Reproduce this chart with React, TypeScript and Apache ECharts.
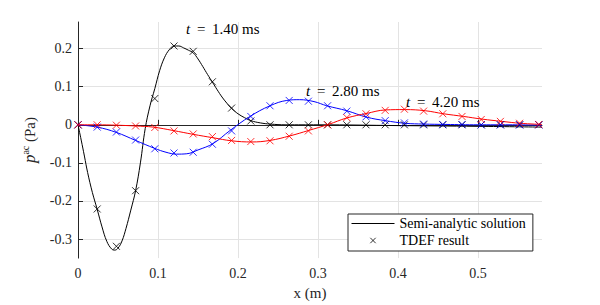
import React, { useEffect, useRef } from "react";
import * as echarts from "echarts";

// Marker (TDEF result) positions, m
const xMarkers = [0, 0.024, 0.048, 0.072, 0.096, 0.12, 0.144, 0.168, 0.192, 0.216, 0.24, 0.264, 0.288, 0.312, 0.336, 0.36, 0.384, 0.408, 0.432, 0.456, 0.48, 0.504, 0.528, 0.552, 0.576];
const tdef140 = [0, -0.221, -0.319, -0.173, 0.069, 0.207, 0.193, 0.113, 0.044, 0.010, 0.000, 0.000, 0.000, 0.000, 0.000, 0.000, 0.000, 0.000, 0.000, 0.000, 0.000, 0.000, 0.000, 0.000, 0.000];
const tdef280 = [0, -0.006, -0.019, -0.040, -0.063, -0.074, -0.072, -0.051, -0.016, 0.022, 0.050, 0.064, 0.062, 0.050, 0.036, 0.021, 0.011, 0.005, 0.002, 0.001, 0.001, 0.000, 0.000, 0.000, 0.000];
const tdef420 = [0, 0.000, -0.001, -0.003, -0.007, -0.016, -0.024, -0.031, -0.041, -0.044, -0.042, -0.030, -0.016, 0.000, 0.019, 0.029, 0.038, 0.041, 0.036, 0.029, 0.022, 0.014, 0.009, 0.004, 0.001];

// Semi-analytic solution curves
const lineX140 = [0, 0.004, 0.008, 0.012, 0.018, 0.024, 0.030, 0.036, 0.042, 0.046, 0.050, 0.055, 0.060, 0.066, 0.072, 0.078, 0.084, 0.090, 0.096, 0.102, 0.108, 0.114, 0.120, 0.126, 0.132, 0.138, 0.144, 0.150, 0.156, 0.162, 0.168, 0.174, 0.180, 0.186, 0.192, 0.200, 0.208, 0.216, 0.228, 0.240, 0.260, 0.300, 0.400, 0.500, 0.580];
const lineY140 = [0, -0.040, -0.082, -0.125, -0.178, -0.222, -0.268, -0.306, -0.326, -0.329, -0.324, -0.305, -0.272, -0.224, -0.173, -0.100, -0.010, 0.050, 0.095, 0.142, 0.176, 0.197, 0.207, 0.207, 0.202, 0.196, 0.189, 0.173, 0.153, 0.132, 0.112, 0.092, 0.073, 0.057, 0.043, 0.029, 0.019, 0.011, 0.005, 0.002, 0.000, 0.000, -0.002, -0.004, -0.006];
const lineX280 = [0, 0.024, 0.048, 0.072, 0.096, 0.110, 0.123, 0.136, 0.150, 0.169, 0.190, 0.215, 0.240, 0.261, 0.277, 0.295, 0.311, 0.336, 0.361, 0.384, 0.409, 0.432, 0.460, 0.500, 0.540, 0.580];
const lineY280 = [0, -0.006, -0.020, -0.041, -0.062, -0.072, -0.077, -0.076, -0.066, -0.049, -0.015, 0.022, 0.050, 0.064, 0.066, 0.061, 0.050, 0.037, 0.020, 0.011, 0.004, 0.002, 0.001, 0.000, 0.000, -0.001];
const lineX420 = [0, 0.024, 0.048, 0.072, 0.094, 0.119, 0.144, 0.169, 0.192, 0.217, 0.240, 0.265, 0.288, 0.313, 0.336, 0.361, 0.384, 0.409, 0.434, 0.457, 0.482, 0.505, 0.530, 0.553, 0.580];
const lineY420 = [0, 0.000, -0.001, -0.003, -0.006, -0.015, -0.025, -0.034, -0.042, -0.045, -0.041, -0.029, -0.015, 0.001, 0.018, 0.030, 0.039, 0.040, 0.037, 0.029, 0.022, 0.015, 0.009, 0.004, 0.001];

const xTicks = [0, 0.1, 0.2, 0.3, 0.4, 0.5];
const yTicks = [-0.3, -0.2, -0.1, 0, 0.1, 0.2];

const annotations = [
  { label: "1.40 ms", x: 0.135, y: 0.252 },
  { label: "2.80 ms", x: 0.285, y: 0.088 },
  { label: "4.20 ms", x: 0.41, y: 0.06 },
];

const FONT = "Liberation Serif";
const AXIS = "#262626";
const GRID = "#e3e3e3";
const XPATH = "path://M0,0L10,10M10,0L0,10";
const XPATH_LEGEND = "path://M-8,-8M18,18M0,0L10,10M10,0L0,10";
const LINE_LEGEND = "path://M0,-7M0,7M0,0L43,0";

const pair = (xs: number[], ys: number[]) => xs.map((x, i) => [x, ys[i]]);
const fmt = (v: number) => String(Math.round(v * 10) / 10);

export default function App() {
  const ref = useRef<HTMLDivElement>(null);
  useEffect(() => {
    document.body.style.margin = "0";
    if (!ref.current) return;
    const chart = echarts.init(ref.current, null, { renderer: "svg" });
    const lineSeries = (data: number[][], color: string) => ({
      type: "line",
      name: "Semi-analytic solution",
      data,
      symbol: "none",
      smooth: 0.4,
      lineStyle: { color, width: 1 },
      itemStyle: { color },
      z: 2,
    });
    const scatterSeries = (data: number[][], color: string) => ({
      type: "scatter",
      name: "TDEF result",
      data,
      symbol: XPATH,
      symbolSize: 7,
      itemStyle: { color: "transparent", borderColor: color, borderWidth: 1 },
      z: 3,
    });
    const labelStyle = { fontFamily: FONT, fontSize: 14, color: AXIS };
    const option: any = {
      animation: false,
      textStyle: { fontFamily: FONT },
      grid: { left: 78, right: 58, top: 22, bottom: 44 },
      xAxis: {
        type: "value",
        min: 0,
        max: 0.58,
        name: "x (m)",
        nameLocation: "middle",
        nameGap: 26,
        nameTextStyle: { fontFamily: FONT, fontSize: 15, color: AXIS },
        axisLine: { lineStyle: { color: AXIS, width: 1 } },
        axisTick: { inside: true, length: 5, customValues: xTicks, lineStyle: { color: AXIS } },
        axisLabel: { customValues: xTicks, formatter: fmt, margin: 8, ...labelStyle },
        splitLine: { show: true, lineStyle: { color: GRID, width: 1 } },
      },
      yAxis: {
        type: "value",
        min: -0.35,
        max: 0.27,
        name: "{p|p}{s|ac} (Pa)",
        nameLocation: "middle",
        nameGap: 30,
        nameRotate: 90,
        nameTextStyle: {
          fontFamily: FONT,
          fontSize: 15,
          color: AXIS,
          lineHeight: 18,
          rich: {
            p: { fontFamily: FONT, fontStyle: "italic", fontSize: 17, color: AXIS, lineHeight: 18 },
            s: { fontFamily: FONT, fontSize: 10, color: AXIS, verticalAlign: "top", lineHeight: 11 },
          },
        },
        axisLine: { show: true, lineStyle: { color: AXIS, width: 1 } },
        axisTick: { show: true, inside: true, length: 5, customValues: yTicks, lineStyle: { color: AXIS } },
        axisLabel: { customValues: yTicks, formatter: fmt, margin: 6, ...labelStyle },
        splitLine: { show: true, lineStyle: { color: GRID, width: 1 } },
      },
      legend: {
        orient: "vertical",
        left: 348,
        top: 214,
        padding: [2, 7, 3, 3],
        itemGap: 2,
        itemWidth: 43,
        itemHeight: 14,
        borderColor: AXIS,
        borderWidth: 1,
        backgroundColor: "#ffffff",
        itemStyle: { color: "transparent", borderColor: "#000", borderWidth: 1 },
        textStyle: { fontFamily: FONT, fontSize: 14, color: "#000" },
        selectedMode: false,
        data: [
          { name: "Semi-analytic solution", icon: LINE_LEGEND },
          { name: "TDEF result", icon: XPATH_LEGEND },
        ],
      },
      series: [
        lineSeries(pair(lineX140, lineY140), "#000000"),
        lineSeries(pair(lineX280, lineY280), "#0000ff"),
        lineSeries(pair(lineX420, lineY420), "#ff0000"),
        scatterSeries(pair(xMarkers, tdef140), "#000000"),
        scatterSeries(pair(xMarkers, tdef280), "#0000ff"),
        scatterSeries(pair(xMarkers, tdef420), "#ff0000"),
      ],
    };
    chart.setOption(option);
    const graphic = annotations.map((a) => {
      const p = chart.convertToPixel({ gridIndex: 0 }, [a.x, a.y]) as number[];
      return {
        type: "text",
        x: p[0],
        y: p[1],
        z: 10,
        style: {
          text: "{i|t}\u2009 = \u2009" + a.label,
          fontFamily: FONT,
          fontSize: 15,
          fill: "#000",
          verticalAlign: "middle",
          align: "left",
          rich: { i: { fontFamily: FONT, fontStyle: "italic", fontSize: 15, fill: "#000" } },
        },
      };
    });
    chart.setOption({ graphic });
    return () => chart.dispose();
  }, []);
  return <div ref={ref} style={{ width: 600, height: 305 }} />;
}
